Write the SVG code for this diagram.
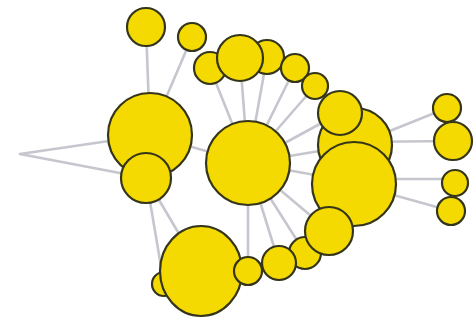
<svg xmlns="http://www.w3.org/2000/svg" width="474" height="323" viewBox="0 0 474 323">
<style>
.n{fill:#f4da00;stroke:#35351a;stroke-width:2.2}
.e line{stroke:#c6c6cf;stroke-width:2.6;stroke-linecap:round}
</style>
<rect width="474" height="323" fill="#ffffff"/>
<g id="edges" class="e">
<line x1="20" y1="154" x2="150" y2="135"/>
<line x1="20" y1="154" x2="146" y2="178"/>
<line x1="146" y1="27" x2="150" y2="135"/>
<line x1="192" y1="37" x2="150" y2="135"/>
<line x1="150" y1="135" x2="248" y2="163"/>
<line x1="146" y1="178" x2="201" y2="271"/>
<line x1="146" y1="178" x2="164" y2="284"/>
<line x1="210" y1="68" x2="248" y2="163"/>
<line x1="240" y1="58" x2="248" y2="163"/>
<line x1="267" y1="57" x2="248" y2="163"/>
<line x1="295" y1="68" x2="248" y2="163"/>
<line x1="315" y1="86" x2="248" y2="163"/>
<line x1="340" y1="113" x2="248" y2="163"/>
<line x1="355" y1="145" x2="248" y2="163"/>
<line x1="354" y1="182" x2="248" y2="163"/>
<line x1="329" y1="231" x2="248" y2="163"/>
<line x1="305" y1="253" x2="248" y2="163"/>
<line x1="279" y1="263" x2="248" y2="163"/>
<line x1="248" y1="271" x2="248" y2="163"/>
<line x1="355" y1="145" x2="447" y2="108"/>
<line x1="355" y1="142" x2="453" y2="141"/>
<line x1="354" y1="179" x2="455" y2="179"/>
<line x1="354" y1="184" x2="451" y2="211"/>
</g>
<g id="n1"><circle class="n" cx="146" cy="27" r="19"/></g>
<g id="n2"><circle class="n" cx="192" cy="37" r="14"/></g>
<g id="n3"><circle class="n" cx="267" cy="57" r="17"/></g>
<g id="n4"><circle class="n" cx="210" cy="68" r="16"/></g>
<g id="n5"><circle class="n" cx="240" cy="58" r="23"/></g>
<g id="n6"><circle class="n" cx="295" cy="68" r="14"/></g>
<g id="n7"><circle class="n" cx="315" cy="86" r="13"/></g>
<g id="n8"><circle class="n" cx="150" cy="135" r="42"/></g>
<g id="n9"><circle class="n" cx="146" cy="178" r="25"/></g>
<g id="n10"><circle class="n" cx="248" cy="163" r="42"/></g>
<g id="n11"><circle class="n" cx="355" cy="145" r="37"/></g>
<g id="n12"><circle class="n" cx="340" cy="113" r="22"/></g>
<g id="n13"><circle class="n" cx="354" cy="184" r="42"/></g>
<g id="n14"><circle class="n" cx="305" cy="253" r="16"/></g>
<g id="n15"><circle class="n" cx="329" cy="231" r="24"/></g>
<g id="n16"><circle class="n" cx="279" cy="263" r="17"/></g>
<g id="n17"><circle class="n" cx="164" cy="284" r="12"/></g>
<g id="n18"><ellipse class="n" cx="201" cy="271" rx="41" ry="45"/></g>
<g id="n19"><circle class="n" cx="248" cy="271" r="14"/></g>
<g id="n20"><circle class="n" cx="447" cy="108" r="14"/></g>
<g id="n21"><circle class="n" cx="453" cy="141" r="19"/></g>
<g id="n22"><circle class="n" cx="455" cy="183" r="13"/></g>
<g id="n23"><circle class="n" cx="451" cy="211" r="14"/></g>
</svg>
